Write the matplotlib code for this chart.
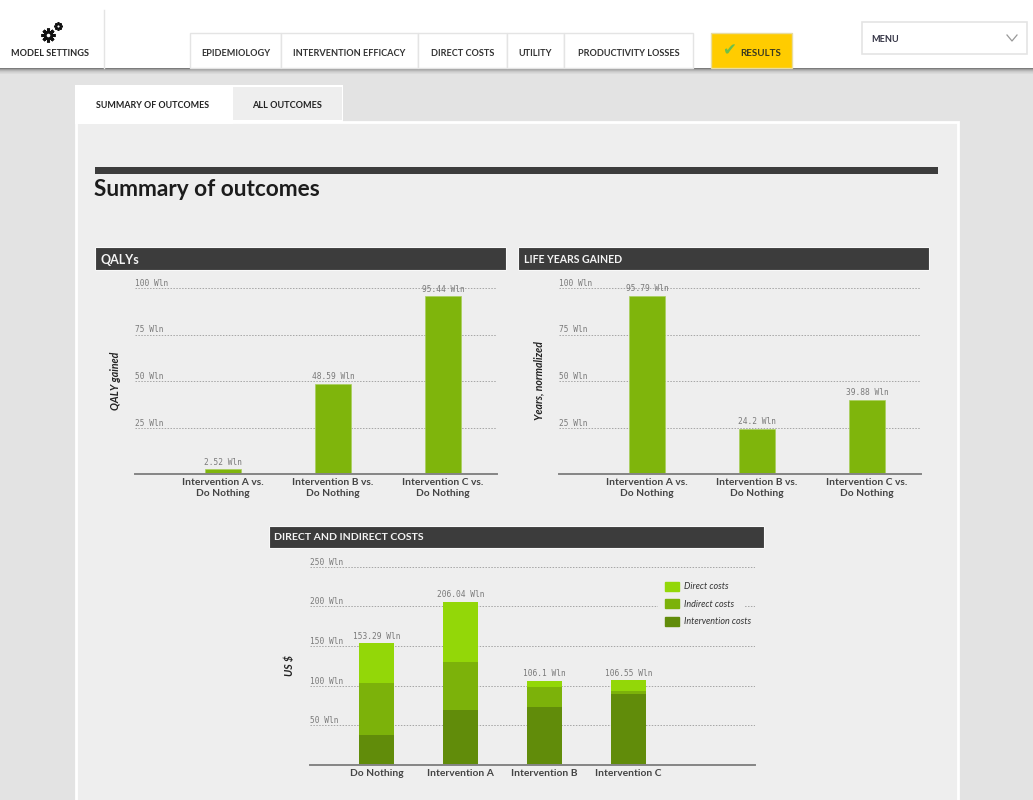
"""Redraw the outcomes dashboard screenshot: page furniture plus three bar charts."""

import matplotlib

matplotlib.use("Agg")

import matplotlib.pyplot as plt  # noqa: E402
from matplotlib.patches import Patch, Rectangle  # noqa: E402

plt.rcParams["font.family"] = ["Lato", "DejaVu Sans"]

WIDTH, HEIGHT = 1033, 800

PAGE_BG = "#e3e3e3"
PANEL_BG = "#eeeeee"
DARK = "#3c3c3c"
EDGE = "#e4e4e4"
BAR_GREEN = "#7fb50c"
DIRECT_GREEN = "#93d708"
INDIRECT_GREEN = "#7cb20a"
INTERVENTION_GREEN = "#618c0a"

# data
vs_labels = ["Intervention A vs.\nDo Nothing", "Intervention B vs.\nDo Nothing", "Intervention C vs.\nDo Nothing"]
qaly_values = [2.52, 48.59, 95.44]
qaly_labels = ["2.52 Wln", "48.59 Wln", "95.44 Wln"]
life_values = [95.79, 24.2, 39.88]
life_labels = ["95.79 Wln", "24.2 Wln", "39.88 Wln"]
gain_ticks = [25, 50, 75, 100]
gain_tick_labels = ["25 Wln", "50 Wln", "75 Wln", "100 Wln"]

cost_categories = ["Do Nothing", "Intervention A", "Intervention B", "Intervention C"]
intervention_costs = [37.4, 68.9, 73.1, 89.0]
indirect_costs = [65.6, 60.9, 25.6, 3.9]
direct_costs = [50.29, 76.24, 7.4, 13.65]
cost_labels = ["153.29 Wln", "206.04 Wln", "106.1 Wln", "106.55 Wln"]
cost_ticks = [50, 100, 150, 200, 250]
cost_tick_labels = ["50 Wln", "100 Wln", "150 Wln", "200 Wln", "250 Wln"]

nav_labels = ["EPIDEMIOLOGY", "INTERVENTION EFFICACY", "DIRECT COSTS", "UTILITY", "PRODUCTIVITY LOSSES"]
nav_edges = [190, 281, 418, 507, 564, 693]


fig = plt.figure(figsize=(WIDTH / 100, HEIGHT / 100), dpi=100, facecolor=PAGE_BG)

# page furniture is drawn in screenshot pixels on a full-figure axes
page = fig.add_axes([0, 0, 1, 1])
page.set_xlim(0, WIDTH)
page.set_ylim(HEIGHT, 0)
page.axis("off")


def box(x0, y0, x1, y1, color, edge="none", lw=1.0, zorder=2):
    page.add_patch(Rectangle((x0, y0), x1 - x0, y1 - y0, facecolor=color, edgecolor=edge, linewidth=lw, zorder=zorder))


def label(x, y, text, size, color="#333333", weight="bold", ha="left", **kwargs):
    page.text(x, y, text, fontsize=size, color=color, fontweight=weight, ha=ha, va="center", zorder=5, **kwargs)


def gear(x, y, size):
    """Solid cog icon built from markers."""
    page.plot(x, y, marker="o", ms=size * 0.62, color="#111111", mew=0, zorder=5)
    page.plot(x, y, marker=(8, 2, 0), ms=size, color="#111111", mew=size * 0.22, zorder=5)
    page.plot(x, y, marker="o", ms=size * 0.26, color="white", mew=0, zorder=6)


# header strip and its soft shadow
for i, alpha in enumerate([0.45, 0.3, 0.2, 0.12, 0.07, 0.04]):
    box(0, 68 + i, WIDTH, 69 + i, "black", zorder=1)
    page.patches[-1].set_alpha(alpha)
box(0, 0, WIDTH, 68, "white")

page.plot([104, 104], [10, 68], color=EDGE, lw=1.0, zorder=3)
gear(48, 35, 10)
gear(58, 26, 6)
label(50, 53.5, "MODEL SETTINGS", 6.6, color="#2a2a2a", ha="center")

for left, right, text in zip(nav_edges[:-1], nav_edges[1:], nav_labels):
    box(left, 33, right, 68, "white", edge=EDGE)
    label((left + right) / 2, 53, text, 6.6, ha="center")

box(711, 33, 792, 68, "#ffcc00", edge="#e8dca0")
label(729, 50, "\u2714", 12, color="#6cc04a", weight="normal", family="DejaVu Sans", ha="center")
label(740, 53, "RESULTS", 7, color="#3a3a20")

box(862, 22, 1027, 54, "white", edge=EDGE, lw=1.2)
label(871, 39, "MENU", 6.6, color="#333344")
page.plot([1007, 1012, 1017], [35, 41, 35], color="#999999", lw=0.9, zorder=5)

# tabbed panel
box(75, 85, 343, 124, "white")
box(233, 87, 342, 120, PANEL_BG)
box(76, 122, 958, 801, PANEL_BG, edge="white", lw=2)
box(76, 85, 233, 124, "white", zorder=3)
label(96, 105, "SUMMARY OF OUTCOMES", 6.4, color="#222222")
label(252, 105, "ALL OUTCOMES", 6.6, color="#222222")

box(95, 167, 938, 174, DARK)
label(94, 189.5, "Summary of outcomes", 16.3, color="#1c1c1c")

# chart title bars
for x0, x1, y0, y1, text, size in [
    (95, 506, 247, 270, "QALYs", 9.0),
    (518, 929, 247, 270, "LIFE YEARS GAINED", 7.6),
    (269, 764, 526, 548, "DIRECT AND INDIRECT COSTS", 7.55),
]:
    box(x0, y0, x1, y1, DARK, edge="#f8f8f8", lw=0.8)
    label(x0 + 5.5, (y0 + y1) / 2 + 1, text, size, color="#f4f4f4")


def chart_axes(x0, x1, y_top, y_bottom):
    """Axes covering a pixel box of the screenshot, styled like the page's charts."""
    ax = fig.add_axes([x0 / WIDTH, 1 - y_bottom / HEIGHT, (x1 - x0) / WIDTH, (y_bottom - y_top) / HEIGHT])
    ax.patch.set_visible(False)
    for side in ("top", "right", "left"):
        ax.spines[side].set_visible(False)
    ax.spines["bottom"].set_color("#858585")
    ax.spines["bottom"].set_linewidth(1.4)
    ax.set_axisbelow(True)
    ax.grid(axis="y", color="#a5a5a5", linestyle=(0, (1.5, 1.5)), linewidth=0.7)
    ax.tick_params(axis="x", length=0, pad=2.8, labelsize=7.4, labelcolor="#444444")
    ax.tick_params(axis="y", length=0, pad=0, labelsize=5.7, labelcolor="#7a7a7a")
    return ax


def finish_axes(ax, ticks, tick_labels, categories, ymax, xlim, ylabel, label_x):
    ax.set_ylim(0, ymax)
    ax.set_xlim(*xlim)
    ax.set_yticks(ticks, tick_labels, family="DejaVu Sans Mono")
    for tick_label in ax.get_yticklabels():
        tick_label.set_ha("left")
        tick_label.set_va("bottom")
    ax.set_xticks(range(len(categories)), categories, fontweight="bold", linespacing=1.35)
    ax.set_ylabel(ylabel, fontsize=7.6, fontweight="bold", fontstyle="italic", color="#222222")
    ax.yaxis.set_label_coords(label_x, 0.5)


def gain_chart(x0, x1, values, value_labels, ylabel):
    ax = chart_axes(x0, x1, 288, 474)
    bars = ax.bar(range(len(values)), values, width=0.32, color=BAR_GREEN, edgecolor="#a9cf5c", linewidth=0.5)
    ax.bar_label(bars, labels=value_labels, padding=2, fontsize=5.7, color="#7a7a7a", family="DejaVu Sans Mono")
    finish_axes(ax, gain_ticks, gain_tick_labels, vs_labels, 100, (-0.8, 2.49), ylabel, -0.04)


gain_chart(135, 497, qaly_values, qaly_labels, "QALY gained")
gain_chart(559, 921, life_values, life_labels, "Years, normalized")

# stacked cost chart
ax = chart_axes(310, 755, 566.7, 765)
positions = range(len(cost_categories))
bottoms_indirect = intervention_costs
bottoms_direct = [a + b for a, b in zip(intervention_costs, indirect_costs)]
ax.bar(positions, intervention_costs, width=0.42, color=INTERVENTION_GREEN)
ax.bar(positions, indirect_costs, width=0.42, bottom=bottoms_indirect, color=INDIRECT_GREEN)
top = ax.bar(positions, direct_costs, width=0.42, bottom=bottoms_direct, color=DIRECT_GREEN)
ax.bar_label(top, labels=cost_labels, padding=2, fontsize=5.7, color="#7a7a7a", family="DejaVu Sans Mono")
finish_axes(ax, cost_ticks, cost_tick_labels, cost_categories, 250, (-0.794, 4.504), "US \\$", -0.034)

# the legend blanks the 200 gridline behind it
ax.add_patch(Rectangle((0.782, 0.787), 0.1955, 0.025, transform=ax.transAxes, facecolor=PANEL_BG, edgecolor="none", zorder=0.8))

handles = [
    Patch(color=DIRECT_GREEN, label="Direct costs"),
    Patch(color=INDIRECT_GREEN, label="Indirect costs"),
    Patch(color=INTERVENTION_GREEN, label="Intervention costs"),
]
legend = ax.legend(
    handles=handles,
    loc="upper left",
    bbox_to_anchor=(0.7975, 0.924),
    frameon=False,
    fontsize=6.5,
    handlelength=1.55,
    handleheight=1.2,
    handletextpad=0.6,
    labelspacing=0.86,
    borderpad=0,
    borderaxespad=0,
)
for text in legend.get_texts():
    text.set_fontstyle("italic")
    text.set_color("#333333")

fig.savefig("out.png", dpi=100, facecolor=fig.get_facecolor())
plt.close(fig)
